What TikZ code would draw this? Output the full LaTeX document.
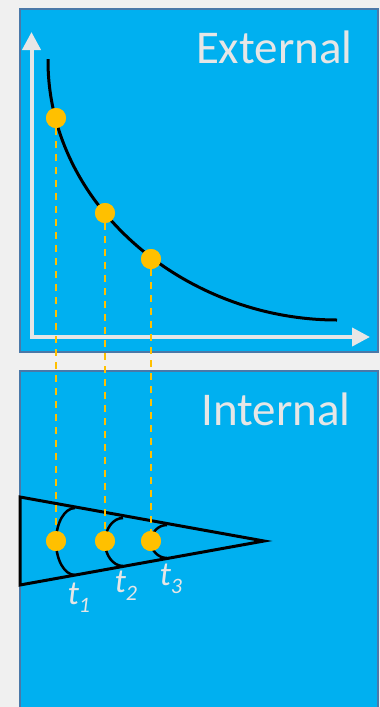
\documentclass[tikz,border=0pt]{standalone}
\usepackage{fontspec}
\setmainfont{Carlito}
\usetikzlibrary{arrows.meta}
\definecolor{panelblue}{HTML}{00B0F0}
\definecolor{panelline}{HTML}{4A78A8}
\definecolor{dotgold}{HTML}{FFC000}
\definecolor{paleaxis}{HTML}{E6E6E6}
\definecolor{pagegray}{HTML}{F0F0F0}
\begin{document}
\begin{tikzpicture}[
    x=1pt, y=-1pt,
    panel/.style={fill=panelblue, draw=panelline, line width=2pt},
    axis/.style={draw=paleaxis, line width=4pt, {Triangle[width=18pt,length=18pt]}-{Triangle[width=18pt,length=18pt]}},
    dot/.style={circle, fill=dotgold, inner sep=0pt, minimum size=20pt},
    guide/.style={draw=dotgold, line width=2.6pt, dash pattern=on 7pt off 6pt},
    front/.style={line width=2.5pt},
    title/.style={text=paleaxis, font=\fontsize{47}{50}\selectfont, anchor=base east},
    tlabel/.style={text=paleaxis, font=\fontsize{34}{36}\selectfont\itshape, anchor=base west}
]
    \useasboundingbox[fill=pagegray] (0,0) rectangle (380,707);
    % panels
    \draw[panel] (20,9) rectangle (378,352);
    \draw[panel] (20,371) rectangle (378,712);
    \node[title] (ext) at (356,63) {External};
    \node[title] (int) at (354,425) {Internal};
    % axes and curve
    \coordinate (ytip) at (31.5,32);
    \coordinate (xtip) at (370,337);
    \draw[axis] (ytip) |- (xtip);
    \draw[line width=3pt] (48,59) .. controls (47,205) and (185,320) .. (337,320);
    % dots
    \node[dot] (e1) at (56,118) {};
    \node[dot] (e2) at (105,213) {};
    \node[dot] (e3) at (151,259) {};
    \node[dot] (i1) at (56,541) {};
    \node[dot] (i2) at (105,541) {};
    \node[dot] (i3) at (151,541) {};
    % cone with fronts
    \draw[line width=3pt, line join=miter] (20,497) -- (264,541) -- (20,585) -- cycle;
    \draw[front] (75,508) arc[start angle=270, end angle=90, x radius=19, y radius=33.5];
    \draw[front] (123,518) arc[start angle=270, end angle=90, x radius=18, y radius=24];
    \draw[front] (167,525) arc[start angle=270, end angle=90, x radius=16, y radius=16.5];
    % guides
    \draw[guide] (e1) -- (i1);
    \draw[guide] (e2) -- (i2);
    \draw[guide] (e3) -- (i3);
    \node[dot] at (e1) {};
    \node[dot] at (e2) {};
    \node[dot] at (e3) {};
    \node[dot] at (i1) {};
    \node[dot] at (i2) {};
    \node[dot] at (i3) {};
    % labels
    \node[tlabel] (t1) at (64,604) {t\raisebox{-8pt}{\fontsize{22}{22}\selectfont 1}};
    \node[tlabel] (t2) at (111,592) {t\raisebox{-8pt}{\fontsize{22}{22}\selectfont 2}};
    \node[tlabel] (t3) at (156,585) {t\raisebox{-8pt}{\fontsize{22}{22}\selectfont 3}};
\end{tikzpicture}
\end{document}
